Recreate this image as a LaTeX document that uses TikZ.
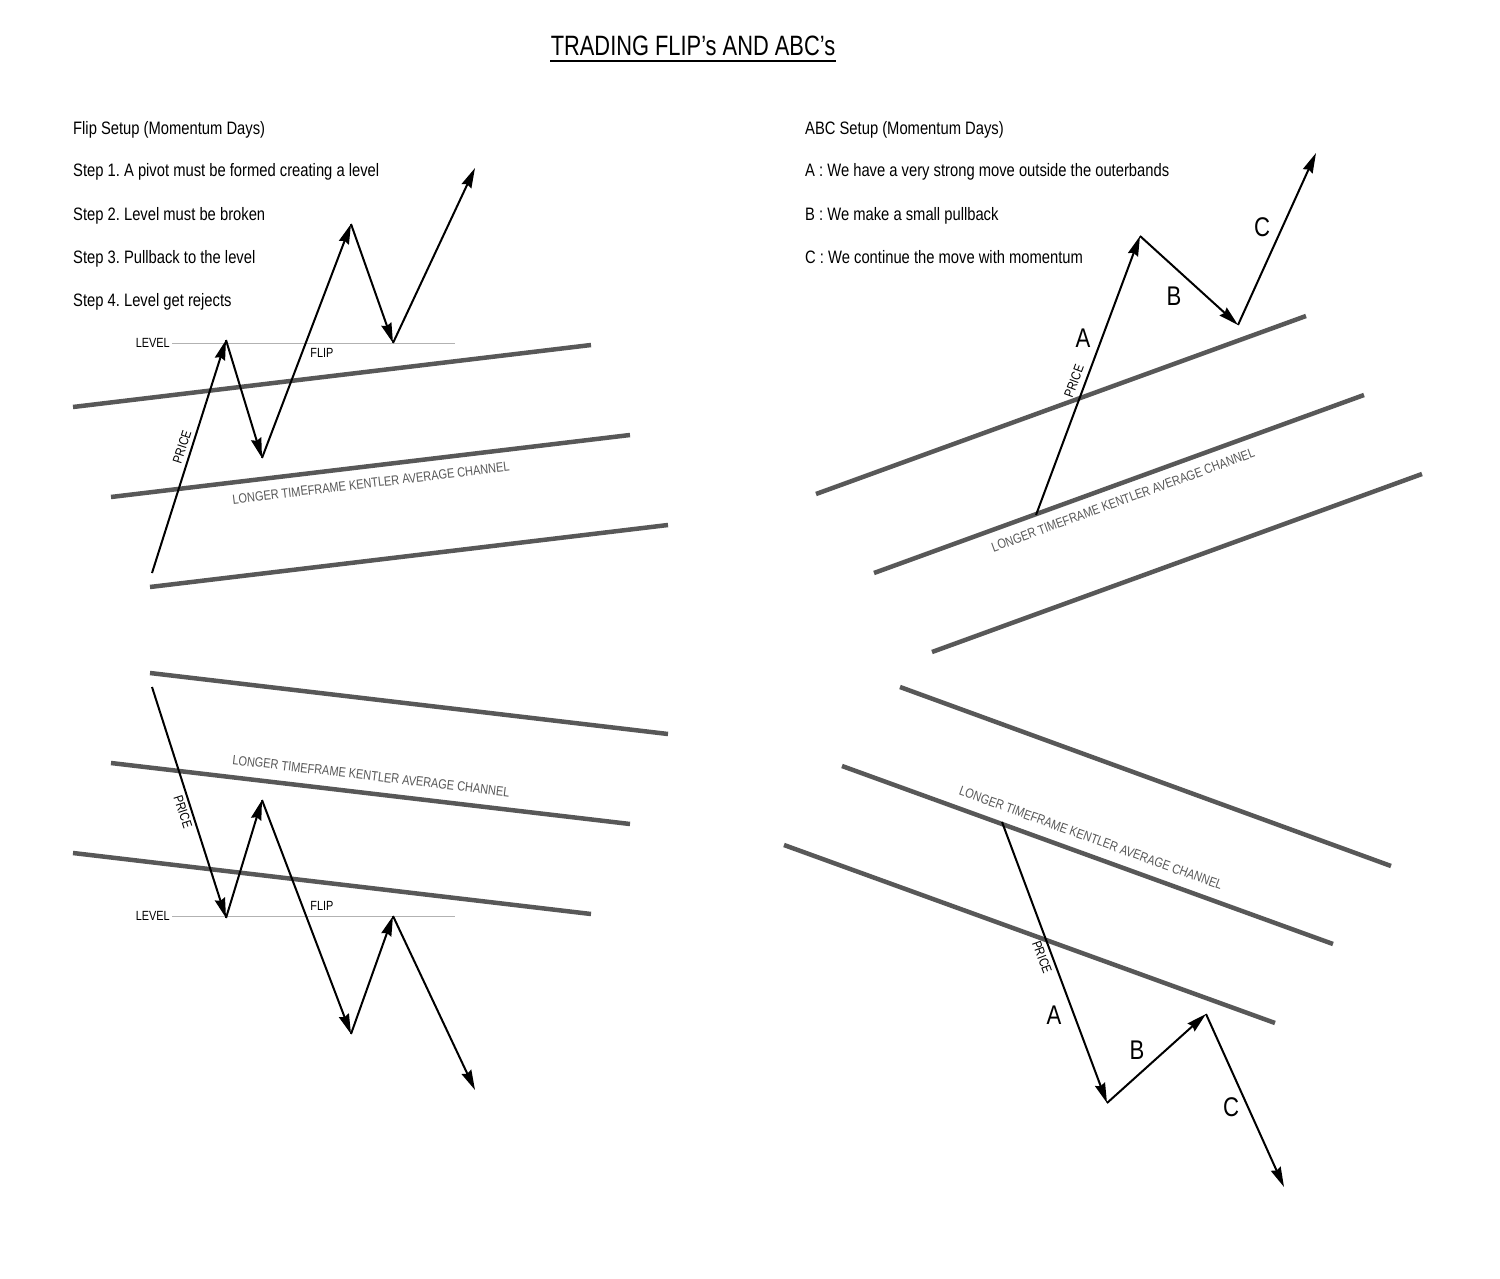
\documentclass[tikz,border=0pt]{standalone}
\usepackage{fontspec}
\setmainfont{Liberation Sans}[FakeStretch=0.82]
\newfontfamily\titlefont{Liberation Sans}[FakeStretch=0.78]
\usetikzlibrary{arrows.meta}
\definecolor{chgray}{HTML}{585858}
\frenchspacing
\begin{document}
\begin{tikzpicture}[x=1pt,y=-1pt,
  chan/.style={line width=4.5pt, draw=chgray},
  lvl/.style={line width=0.9pt, draw=black!30},
  mv/.style={line width=2pt, -{Stealth[length=20pt,width=10.5pt,inset=2pt]}},
  txt/.style={font=\fontsize{18}{20}\selectfont, anchor=base west, inner sep=0pt},
  small/.style={font=\fontsize{13.3}{14}\selectfont, inner sep=0pt},
  chlabel/.style={font=\fontsize{13.4}{14}\selectfont, text=chgray, inner sep=0pt},
  abc/.style={font=\fontsize{27}{28}\selectfont, inner sep=0pt},
]
\fill[white] (0,0) rectangle (1500,1279);
\useasboundingbox (0,0) rectangle (1500,1279);

% title
\node[font=\titlefont\fontsize{28}{30}\selectfont, inner sep=0pt] (title) at (693,46) {TRADING FLIP’s AND ABC’s};
\coordinate (ul1) at (550,61);
\coordinate (ul2) at (836,61);
\draw[line width=1.8pt] (ul1) -- (ul2);

% left texts
\node[txt] (t0) at (73,135) {Flip Setup (Momentum Days)};
\node[txt] (t1) at (73,177) {Step 1. A pivot must be formed creating a level};
\node[txt] (t2) at (73,220) {Step 2. Level must be broken};
\node[txt] (t3) at (73,263) {Step 3. Pullback to the level};
\node[txt] (t4) at (73,306) {Step 4. Level get rejects};

% right texts
\node[txt] (r0) at (805,135) {ABC Setup (Momentum Days)};
\node[txt] (r1) at (805,177) {A : We have a very strong move outside the outerbands};
\node[txt] (r2) at (805,220) {B : We make a small pullback};
\node[txt] (r3) at (805,263) {C : We continue the move with momentum};

%% ---------- top-left (flip up) ----------
\coordinate (a1s) at (73,407);  \coordinate (a1e) at (591,345);
\coordinate (a2s) at (111,497); \coordinate (a2e) at (630,435);
\coordinate (a3s) at (150,587); \coordinate (a3e) at (668,525);
\draw[chan] (a1s) -- (a1e);
\draw[chan] (a2s) -- (a2e);
\draw[chan] (a3s) -- (a3e);
\node[small, anchor=east] (lvA) at (170,343) {LEVEL};
\coordinate (lvAe) at (455,343);
\draw[lvl] (lvA.east) ++(2,0) -- (lvAe);
\node[small] (flipA) at (322,353) {FLIP};
\node[chlabel, rotate=6.8] (chA) at (371,483) {LONGER TIMEFRAME KENTLER AVERAGE CHANNEL};
\coordinate (pA0) at (152,573);
\coordinate (pA1) at (226,340);
\coordinate (pA2) at (262,458);
\coordinate (pA3) at (351,224);
\coordinate (pA4) at (393,343);
\coordinate (pA5) at (475,168);
\draw[mv] (pA0) -- (pA1);
\draw[mv] (pA1) -- (pA2);
\draw[mv] (pA2) -- (pA3);
\draw[mv] (pA3) -- (pA4);
\draw[mv] (pA4) -- (pA5);
\node[small, rotate=72] (prA) at (182,447) {PRICE};

%% ---------- bottom-left (flip down) ----------
\coordinate (b1s) at (150,673); \coordinate (b1e) at (668,734);
\coordinate (b2s) at (111,763); \coordinate (b2e) at (630,824);
\coordinate (b3s) at (73,853);  \coordinate (b3e) at (591,914);
\draw[chan] (b1s) -- (b1e);
\draw[chan] (b2s) -- (b2e);
\draw[chan] (b3s) -- (b3e);
\node[small, anchor=east] (lvB) at (170,916) {LEVEL};
\coordinate (lvBe) at (455,916);
\draw[lvl] (lvB.east) ++(2,0) -- (lvBe);
\node[small] (flipB) at (322,906) {FLIP};
\node[chlabel, rotate=-6.7] (chB) at (371,776) {LONGER TIMEFRAME KENTLER AVERAGE CHANNEL};
\coordinate (pB0) at (152,687);
\coordinate (pB1) at (226,918);
\coordinate (pB2) at (262,800);
\coordinate (pB3) at (351,1034);
\coordinate (pB4) at (393,916);
\coordinate (pB5) at (475,1090);
\draw[mv] (pB0) -- (pB1);
\draw[mv] (pB1) -- (pB2);
\draw[mv] (pB2) -- (pB3);
\draw[mv] (pB3) -- (pB4);
\draw[mv] (pB4) -- (pB5);
\node[small, rotate=-72] (prB) at (183,812) {PRICE};

%% ---------- top-right (ABC up) ----------
\coordinate (c1s) at (816,494); \coordinate (c1e) at (1306,316);
\coordinate (c2s) at (874,573); \coordinate (c2e) at (1364,395);
\coordinate (c3s) at (932,652); \coordinate (c3e) at (1422,474);
\draw[chan] (c1s) -- (c1e);
\draw[chan] (c2s) -- (c2e);
\draw[chan] (c3s) -- (c3e);
\node[chlabel, rotate=20] (chC) at (1123,500) {LONGER TIMEFRAME KENTLER AVERAGE CHANNEL};
\coordinate (pC0) at (1036,515);
\coordinate (pC1) at (1140,236);
\coordinate (pC2) at (1238,325);
\coordinate (pC3) at (1316,153);
\draw[mv] (pC0) -- (pC1);
\draw[mv] (pC1) -- (pC2);
\draw[mv] (pC2) -- (pC3);
\node[small, rotate=69.6] (prC) at (1074,381) {PRICE};
\node[abc] (AC) at (1083,338) {A};
\node[abc] (BC) at (1174,296) {B};
\node[abc] (CC) at (1262,227) {C};

%% ---------- bottom-right (ABC down) ----------
\coordinate (d1s) at (900,687); \coordinate (d1e) at (1391,866);
\coordinate (d2s) at (842,766); \coordinate (d2e) at (1333,944);
\coordinate (d3s) at (784,845); \coordinate (d3e) at (1275,1023);
\draw[chan] (d1s) -- (d1e);
\draw[chan] (d2s) -- (d2e);
\draw[chan] (d3s) -- (d3e);
\node[chlabel, rotate=-20] (chD) at (1091,838) {LONGER TIMEFRAME KENTLER AVERAGE CHANNEL};
\coordinate (pD0) at (1002,822);
\coordinate (pD1) at (1107,1103);
\coordinate (pD2) at (1206,1014);
\coordinate (pD3) at (1284,1187);
\draw[mv] (pD0) -- (pD1);
\draw[mv] (pD1) -- (pD2);
\draw[mv] (pD2) -- (pD3);
\node[small, rotate=-69.5] (prD) at (1042,957) {PRICE};
\node[abc] (AD) at (1054,1015) {A};
\node[abc] (BD) at (1137,1050) {B};
\node[abc] (CD) at (1231,1107) {C};
\end{tikzpicture}
\end{document}
